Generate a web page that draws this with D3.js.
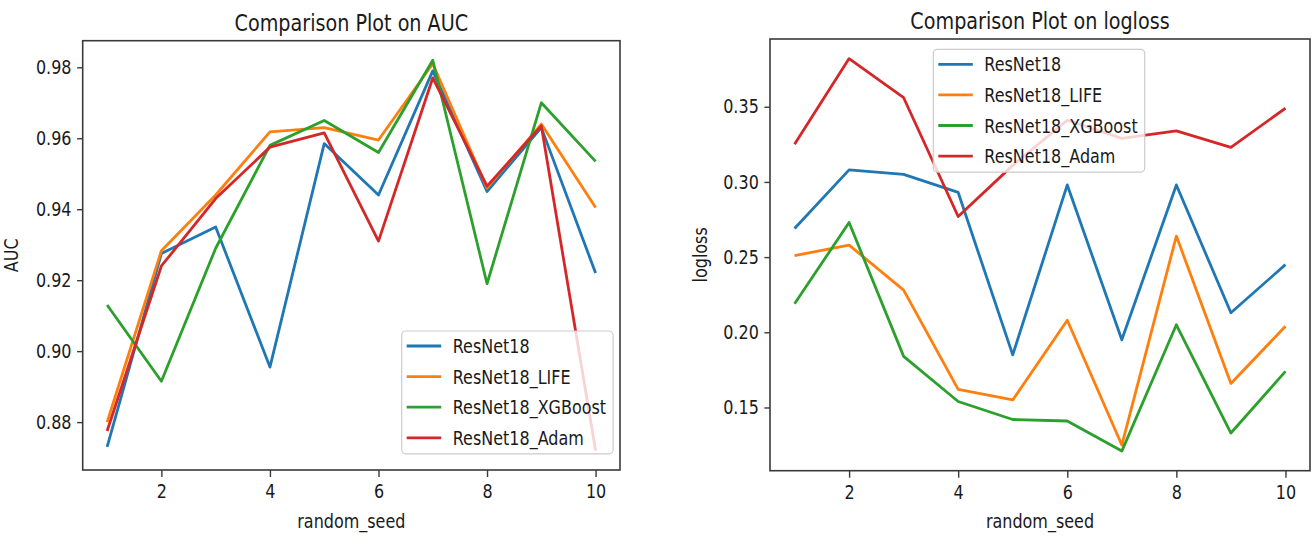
<!DOCTYPE html>
<html>
<head>
<meta charset="utf-8">
<script src="https://cdn.jsdelivr.net/npm/d3@7"></script>
<style>
  html, body { margin: 0; padding: 0; background: #fff; }
  svg { display: block; }
</style>
</head>
<body>
<svg id="chart" width="1313" height="538"></svg>
<script>
// Random seeds used for each run
const seeds = [1, 2, 3, 4, 5, 6, 7, 8, 9, 10];

// Model names, in plotting order
const models = ["ResNet18", "ResNet18_LIFE", "ResNet18_XGBoost", "ResNet18_Adam"];

// AUC per seed
const aucResNet18 = [0.873, 0.9275, 0.935, 0.8955, 0.9585, 0.944, 0.979, 0.945, 0.963, 0.922];
const aucLife     = [0.880, 0.9283, 0.944, 0.9618, 0.963, 0.9595, 0.981, 0.946, 0.964, 0.9405];
const aucXgb      = [0.913, 0.8915, 0.929, 0.958, 0.965, 0.956, 0.982, 0.919, 0.970, 0.9535];
const aucAdam     = [0.8775, 0.924, 0.943, 0.9575, 0.9615, 0.931, 0.977, 0.9465, 0.9635, 0.872];

// logloss per seed
const llResNet18 = [0.269, 0.308, 0.305, 0.293, 0.185, 0.298, 0.195, 0.298, 0.213, 0.245];
const llLife     = [0.251, 0.258, 0.228, 0.162, 0.155, 0.208, 0.125, 0.264, 0.166, 0.204];
const llXgb      = [0.219, 0.273, 0.184, 0.154, 0.142, 0.141, 0.121, 0.205, 0.133, 0.174];
const llAdam     = [0.325, 0.382, 0.356, 0.277, 0.311, 0.341, 0.329, 0.334, 0.323, 0.349];

// Tick values
const xTicks = [2, 4, 6, 8, 10];
const aucTicks = [0.88, 0.90, 0.92, 0.94, 0.96, 0.98];
const llTicks = [0.15, 0.20, 0.25, 0.30, 0.35];

const colors = ["#1f77b4", "#ff7f0e", "#2ca02c", "#d62728"];

const FONT = "DejaVu Sans";
const SX = 0.82;          // horizontal squeeze applied to all text
const TEXT = "#1a1a1a";
const SPINE = "#3a3a3a";

const svg = d3.select("#chart");
svg.append("rect").attr("width", 1313).attr("height", 538).attr("fill", "#fff");

function squeezedText(g, x, y, str, size, anchor, rotate) {
  const t = g.append("text")
    .attr("transform", `translate(${x},${y})` + (rotate ? ` rotate(${rotate})` : "") + ` scale(${SX},1)`)
    .attr("text-anchor", anchor || "middle")
    .attr("font-family", FONT)
    .attr("font-size", size)
    .attr("fill", TEXT)
    .text(str);
  return t;
}

function panel(opts) {
  const { left, right, top, bottom, series, yTicks, yFmt, title, ylabel, ylabelX, legend } = opts;
  const g = svg.append("g");

  // Autoscale with a 5% margin on each side
  const allY = series.flat();
  const ymin = d3.min(allY), ymax = d3.max(allY);
  const ypad = (ymax - ymin) * 0.05;
  const xpad = (d3.max(seeds) - d3.min(seeds)) * 0.05;

  const x = d3.scaleLinear().domain([d3.min(seeds) - xpad, d3.max(seeds) + xpad]).range([left, right]);
  const y = d3.scaleLinear().domain([ymin - ypad, ymax + ypad]).range([bottom, top]);

  // Lines
  const line = d3.line().x((d, i) => x(seeds[i])).y(d => y(d));
  series.forEach((s, k) => {
    g.append("path")
      .datum(s)
      .attr("d", line)
      .attr("fill", "none")
      .attr("stroke", colors[k])
      .attr("stroke-width", 2.8)
      .attr("stroke-linejoin", "round")
      .attr("stroke-linecap", "butt");
  });

  // Axes
  const xAxis = d3.axisBottom(x).tickValues(xTicks).tickFormat(d3.format("d")).tickSize(7).tickPadding(6);
  const yAxis = d3.axisLeft(y).tickValues(yTicks).tickFormat(yFmt).tickSize(5.6).tickPadding(5.6);

  const gx = g.append("g").attr("transform", `translate(0,${bottom})`).call(xAxis);
  const gy = g.append("g").attr("transform", `translate(${left},0)`).call(yAxis);
  [gx, gy].forEach(a => {
    a.select(".domain").remove();
    a.selectAll(".tick line").attr("stroke", SPINE).attr("stroke-width", 1.4);
    a.selectAll(".tick text")
      .attr("font-family", FONT)
      .attr("font-size", 19.5)
      .attr("fill", TEXT);
  });
  gy.selectAll(".tick text").each(function () {
    const t = d3.select(this);
    const xv = +t.attr("x");
    t.attr("x", xv / SX).attr("transform", `scale(${SX},1)`);
  });
  gx.selectAll(".tick text").attr("transform", `scale(${SX},1)`).attr("dy", "0.76em");

  // Frame
  g.append("rect")
    .attr("x", left).attr("y", top)
    .attr("width", right - left).attr("height", bottom - top)
    .attr("fill", "none").attr("stroke", SPINE).attr("stroke-width", 1.6);

  // Title and axis labels
  squeezedText(g, (left + right) / 2, top - 10, title, 23.4, "middle");
  squeezedText(g, (left + right) / 2, 528, "random_seed", 19.5, "middle");
  squeezedText(g, ylabelX, (top + bottom) / 2, ylabel, 19.5, "middle", -90);

  // Legend
  const lg = g.append("g");
  const box = lg.append("rect")
    .attr("fill", "#fff").attr("fill-opacity", 0.8)
    .attr("stroke", "#cccccc").attr("stroke-width", 1.2)
    .attr("rx", 4).attr("ry", 4);
  const rowH = 30.6;
  let maxW = 0;
  models.forEach((m, k) => {
    const cy = legend.y + 15 + k * rowH;
    lg.append("line")
      .attr("x1", legend.x + 5).attr("x2", legend.x + 39.5)
      .attr("y1", cy).attr("y2", cy)
      .attr("stroke", colors[k]).attr("stroke-width", 2.8);
    const t = squeezedText(lg, legend.x + 51, cy, m, 19.5, "start")
      .attr("dominant-baseline", "central");
    maxW = Math.max(maxW, t.node().getComputedTextLength() * SX);
  });
  box.attr("x", legend.x).attr("y", legend.y)
    .attr("width", 51 + maxW + 7)
    .attr("height", 15 + 3 * rowH + 16);
}

panel({
  left: 82.7, right: 620, top: 40.7, bottom: 470,
  series: [aucResNet18, aucLife, aucXgb, aucAdam],
  yTicks: aucTicks, yFmt: d3.format(".2f"),
  title: "Comparison Plot on AUC",
  ylabel: "AUC", ylabelX: 18,
  legend: { x: 401.7, y: 331 }
});

panel({
  left: 770, right: 1310, top: 39, bottom: 470.7,
  series: [llResNet18, llLife, llXgb, llAdam],
  yTicks: llTicks, yFmt: d3.format(".2f"),
  title: "Comparison Plot on logloss",
  ylabel: "logloss", ylabelX: 707,
  legend: { x: 933.3, y: 49.3 }
});
</script>
</body>
</html>
